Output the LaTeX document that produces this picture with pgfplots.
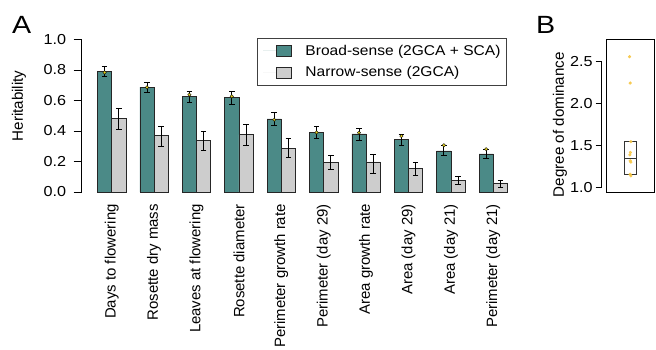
\documentclass[border=0pt]{standalone}
\usepackage{pgfplots}
\pgfplotsset{compat=1.18}
\usepackage{pgfplotstable}
\usepgfplotslibrary{statistics}
\usepackage{fontspec}
\setmainfont{Liberation Sans}
\definecolor{teal1}{HTML}{4B8A87}
\definecolor{gray1}{HTML}{CDCDCD}
\definecolor{dotyel}{HTML}{E6D21E}
\definecolor{ptyel}{HTML}{F6C645}

\pgfplotstableread{
x y ep em d
0 0.787 0.033 0.027 0.782
1 0.687 0.033 0.037 0.685
2 0.624 0.036 0.039 0.637
3 0.618 0.042 0.044 0.626
4 0.479 0.041 0.045 0.473
5 0.388 0.042 0.038 0.390
6 0.381 0.037 0.043 0.388
7 0.343 0.034 0.035 0.366
8 0.269 0.037 0.030 0.306
9 0.249 0.031 0.028 0.280
}\broad

\pgfplotstableread{
x y ep em
0 0.480 0.070 0.070
1 0.369 0.061 0.069
2 0.338 0.062 0.068
3 0.375 0.065 0.070
4 0.288 0.062 0.062
5 0.193 0.046 0.045
6 0.197 0.048 0.078
7 0.156 0.041 0.048
8 0.076 0.026 0.024
9 0.059 0.019 0.028
}\narrow

\pgfplotstableread{
x y
0.987 2.56
1.000 2.246
1.015 1.548
1.006 1.42
0.994 1.39
1.000 1.32
1.015 1.305
1.000 1.16
1.015 1.14
}\dom

\newcommand{\tickfont}{\fontsize{14.5}{16}\selectfont}
\newcommand{\catfont}{\fontsize{15}{17}\selectfont}
\newcommand{\labfont}{\fontsize{15.2}{17}\selectfont}

\pgfplotsset{
  errb/.style={forget plot, draw=none, mark=none,
    error bars/.cd, y dir=both, y explicit, error mark=|,
    error bar style={draw=black, line width=0.7pt},
    error mark options={draw=black, mark size=2.8bp, line width=0.7pt}},
}

\begin{document}
\begin{tikzpicture}
\path[use as bounding box] (0bp,0bp) rectangle (656bp,350bp);

% Panel A
\begin{axis}[
  scale only axis,
  at={(81.7bp,158bp)}, anchor=south west,
  width=437.06bp, height=152.75bp,
  xmin=-0.708, xmax=9.6, ymin=0, ymax=1,
  clip=false,
  axis x line=bottom, axis y line=left,
  x axis line style={draw=none},
  y axis line style={-, line width=0.6pt},
  xtick={0,...,9},
  xticklabels={Days to flowering, Rosette dry mass, Leaves at flowering, Rosette diameter, Perimeter growth rate, Perimeter (day 29), Area growth rate, Area (day 29), Area (day 21), Perimeter (day 21)},
  xticklabel style={rotate=90, anchor=east, inner sep=0pt, font=\catfont},
  xticklabel shift=4bp,
  x tick style={draw=none},
  ytick={0,0.2,...,1.0},
  tick align=outside,
  major tick length=8bp,
  y tick style={line width=0.6pt, black},
  yticklabel style={anchor=east, inner sep=0pt, font=\tickfont,
    /pgf/number format/.cd, fixed, fixed zerofill, precision=1, assume math mode=true},
  yticklabel={\scalebox{1.12}[1]{\pgfmathprintnumber{\tick}}},
  yticklabel shift=7.5bp,
  ylabel={Heritability},
  ylabel style={at={(axis description cs:-0.1435,0.563)}, anchor=center, font=\labfont},
  legend style={at={(axis cs:9.316,1.010)}, anchor=north east, draw=black!75,
    font=\fontsize{14.2}{16}\selectfont, inner xsep=6bp, inner ysep=5bp, row sep=6bp,
    nodes={inner xsep=0bp},
    /tikz/every odd column/.append style={column sep=14bp}},
  legend cell align=left,
  legend image code/.code={\path[draw=none] (0bp,0bp) -- (13bp,0bp); \draw[#1] (13.4bp,-5.5bp) rectangle (28bp,5.5bp);},
]
\addplot[ybar, bar width=0.335, bar shift=-0.1675, fill=teal1, draw=black!85, line width=0.6pt]
  table[x=x, y=y] {\broad};
\addlegendentry{\scalebox{1.1}[1]{Broad-sense (2GCA + SCA)}\hspace{5bp}}
\addplot[ybar, bar width=0.335, bar shift=0.1675, fill=gray1, draw=black!85, line width=0.6pt]
  table[x=x, y=y] {\narrow};
\addlegendentry{\scalebox{1.1}[1]{Narrow-sense (2GCA)}}
\addplot[errb] table[x expr=\thisrow{x}-0.1675, y=y, y error plus=ep, y error minus=em] {\broad};
\addplot[errb] table[x expr=\thisrow{x}+0.1675, y=y, y error plus=ep, y error minus=em] {\narrow};
\addplot[only marks, mark=*, mark size=1.7bp, mark options={fill=dotyel, draw=black, line width=0.35pt}, forget plot]
  table[x expr=\thisrow{x}-0.1675, y=d] {\broad};
\end{axis}

% Panel B frame + data
\begin{axis}[
  scale only axis,
  at={(606.3bp,157.7bp)}, anchor=south west,
  width=47.7bp, height=153bp,
  xmin=0.5, xmax=1.5, ymin=0.945, ymax=2.767,
  axis line style={line width=0.6pt},
  xtick=\empty, ytick=\empty,
]
\addplot[boxplot/draw direction=y, boxplot prepared={median=1.35, upper quartile=1.548, lower quartile=1.163,
  upper whisker=1.548, lower whisker=1.14, draw position=1, box extend=0.245, whisker extend=0},
  draw=black!80, line width=0.6pt] coordinates {};
\addplot[only marks, mark=*, mark size=1.4bp, color=ptyel, fill opacity=0.9, draw opacity=0.9]
  table[x=x, y=y] {\dom};
\end{axis}

% Panel B y axis
\begin{axis}[
  scale only axis,
  at={(601.7bp,162.3bp)}, anchor=south west,
  width=10bp, height=126bp,
  xmin=0, xmax=1, ymin=1, ymax=2.5,
  axis x line=none, axis y line=left,
  y axis line style={-, line width=0.6pt},
  ytick={1,1.5,2,2.5},
  tick align=outside, major tick length=6bp,
  y tick style={line width=0.6pt, black},
  yticklabel style={anchor=east, inner sep=0pt, font=\tickfont,
    /pgf/number format/.cd, fixed, fixed zerofill, precision=1, assume math mode=true},
  yticklabel={\scalebox{1.12}[1]{\pgfmathprintnumber{\tick}}},
  yticklabel shift=3bp,
  ylabel={Degree of dominance},
  ylabel style={at={(axis description cs:-4.17,0.5)}, anchor=center, font=\labfont},
]
\end{axis}

\node[anchor=base west, inner sep=0pt, font=\fontsize{25}{28}\selectfont] at (12bp,316.7bp) {\scalebox{1.15}[1]{A}};
\node[anchor=base west, inner sep=0pt, font=\fontsize{25}{28}\selectfont] at (536bp,316.7bp) {\scalebox{1.15}[1]{B}};
\end{tikzpicture}
\end{document}
